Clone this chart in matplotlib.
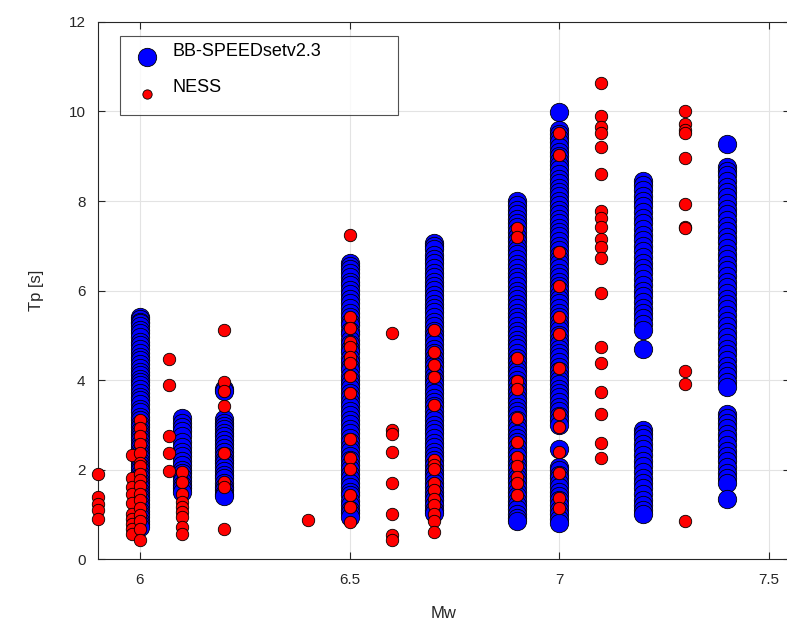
import numpy as np
import matplotlib
matplotlib.use("Agg")
from matplotlib import pyplot as plt
from matplotlib.transforms import Affine2D

plt.rcParams['font.family'] = ['Liberation Sans', 'DejaVu Sans']

# BB-SPEEDsetv2.3 Tp values per magnitude bin
bb_mw = [6.0, 6.1, 6.2, 6.5, 6.7, 6.9, 7.0, 7.2, 7.4]
bb_60 = [5.40, 5.36, 5.30, 5.27, 5.20, 5.12, 5.04, 4.95, 4.85, 4.78, 4.70, 4.60, 4.52, 4.45,
         4.35, 4.26, 4.18, 4.11, 4.02, 3.95, 3.89, 3.80, 3.72, 3.62, 3.55, 3.46, 3.36, 3.28,
         3.18, 3.10, 3.02, 2.95, 2.86, 2.80, 2.73, 2.65, 2.57, 2.50, 2.42, 2.35, 2.28, 2.20,
         2.13, 2.06, 1.98, 1.90, 1.83, 1.75, 1.68, 1.61, 1.53, 1.46, 1.39, 1.31, 1.24, 1.16,
         1.08, 1.01, 0.94, 0.86, 0.79, 0.71]
bb_61 = [3.16, 3.05, 2.95, 2.85, 2.75, 2.62, 2.50, 2.40, 2.30, 2.20, 2.10, 2.00, 1.92, 1.83,
         1.75, 1.65, 1.58, 1.50]
bb_62 = [3.80, 3.76, 3.12, 3.05, 2.98, 2.90, 2.82, 2.74, 2.65, 2.56, 2.48, 2.40, 2.31, 2.22,
         2.14, 2.05, 1.96, 1.88, 1.80, 1.70, 1.62, 1.54, 1.45, 1.40]
bb_65 = [6.61, 6.55, 6.48, 6.40, 6.31, 6.20, 6.12, 6.01, 5.92, 5.80, 5.71, 5.62, 5.50, 5.41,
         5.30, 5.22, 5.10, 5.02, 4.90, 4.81, 4.70, 4.62, 4.50, 4.41, 4.30, 4.22, 4.10, 4.01,
         3.90, 3.82, 3.70, 3.61, 3.50, 3.42, 3.30, 3.21, 3.10, 3.02, 2.90, 2.81, 2.70, 2.62,
         2.50, 2.41, 2.30, 2.22, 2.10, 2.01, 1.90, 1.82, 1.70, 1.61, 1.50, 1.42, 1.30, 1.21,
         1.10, 1.02, 0.94]
bb_67 = [7.06, 7.00, 6.92, 6.80, 6.70, 6.61, 6.50, 6.40, 6.31, 6.20, 6.10, 6.02, 5.90, 5.81,
         5.70, 5.60, 5.51, 5.40, 5.30, 5.21, 5.10, 5.00, 4.91, 4.80, 4.70, 4.61, 4.50, 4.40,
         4.31, 4.20, 4.10, 4.01, 3.90, 3.80, 3.71, 3.60, 3.50, 3.41, 3.30, 3.20, 3.11, 3.00,
         2.90, 2.81, 2.70, 2.60, 2.51, 2.40, 2.30, 2.21, 2.10, 2.00, 1.91, 1.80, 1.70, 1.61,
         1.50, 1.40, 1.31, 1.20, 1.10, 1.02]
bb_69 = [7.99, 7.90, 7.80, 7.71, 7.60, 7.50, 7.41, 7.30, 7.20, 7.11, 7.00, 6.90, 6.81, 6.70,
         6.60, 6.51, 6.40, 6.30, 6.21, 6.10, 6.00, 5.91, 5.80, 5.70, 5.61, 5.50, 5.40, 5.31,
         5.20, 5.10, 5.01, 4.90, 4.80, 4.71, 4.60, 4.50, 4.41, 4.30, 4.20, 4.11, 4.00, 3.90,
         3.81, 3.70, 3.60, 3.51, 3.40, 3.30, 3.21, 3.10, 3.00, 2.91, 2.80, 2.70, 2.61, 2.50,
         2.40, 2.31, 2.20, 2.10, 2.01, 1.90, 1.80, 1.71, 1.60, 1.50, 1.41, 1.30, 1.20, 1.11,
         1.00, 0.92, 0.86]
bb_70 = [9.98, 9.59, 9.50, 9.40, 9.31, 9.20, 9.10, 9.01, 8.90, 8.80, 8.71, 8.60, 8.50, 8.41,
         8.30, 8.20, 8.11, 8.00, 7.90, 7.81, 7.70, 7.60, 7.51, 7.40, 7.30, 7.21, 7.10, 7.00,
         6.91, 6.80, 6.70, 6.61, 6.50, 6.40, 6.31, 6.20, 6.10, 6.01, 5.90, 5.80, 5.71, 5.60,
         5.50, 5.41, 5.30, 5.20, 5.11, 5.00, 4.90, 4.81, 4.70, 4.60, 4.51, 4.40, 4.30, 4.21,
         4.10, 4.00, 3.91, 3.80, 3.70, 3.61, 3.50, 3.40, 3.31, 3.20, 3.10, 2.99, 2.45, 2.06,
         1.98, 1.88, 1.80, 1.70, 1.61, 1.50, 1.40, 1.31, 1.20, 1.10, 1.01, 0.90, 0.80]
bb_72 = [8.44, 8.35, 8.25, 8.12, 8.00, 7.88, 7.75, 7.62, 7.50, 7.38, 7.25, 7.12, 7.00, 6.88,
         6.75, 6.62, 6.50, 6.38, 6.25, 6.12, 6.00, 5.88, 5.75, 5.62, 5.50, 5.38, 5.25, 5.12,
         4.69, 2.88, 2.80, 2.70, 2.58, 2.45, 2.32, 2.20, 2.08, 1.95, 1.82, 1.70, 1.58, 1.45,
         1.32, 1.20, 1.10, 1.01]
bb_74 = [9.27, 8.77, 8.68, 8.58, 8.45, 8.32, 8.20, 8.08, 7.95, 7.82, 7.70, 7.58, 7.45, 7.32,
         7.20, 7.08, 6.95, 6.82, 6.70, 6.58, 6.45, 6.32, 6.20, 6.08, 5.95, 5.82, 5.70, 5.58,
         5.45, 5.32, 5.20, 5.08, 4.95, 4.82, 4.70, 4.58, 4.45, 4.32, 4.20, 4.08, 3.95, 3.85,
         3.25, 3.15, 3.05, 2.92, 2.80, 2.68, 2.55, 2.42, 2.30, 2.18, 2.05, 1.92, 1.80, 1.69,
         1.33]
bb_tp = [bb_60, bb_61, bb_62, bb_65, bb_67, bb_69, bb_70, bb_72, bb_74]

# NESS Tp values per magnitude
ness_mw = [5.9, 5.98, 6.0, 6.07, 6.1, 6.2, 6.4, 6.5, 6.6, 6.7, 6.9, 7.0, 7.1, 7.3]
ness_tp = [
    [1.89, 1.39, 1.22, 1.10, 0.90],
    [2.32, 1.80, 1.60, 1.46, 1.25, 1.01, 0.90, 0.79, 0.68, 0.57],
    [3.10, 2.92, 2.74, 2.58, 2.37, 2.15, 2.07, 1.91, 1.76, 1.63, 1.46, 1.31, 1.13, 0.98,
     0.86, 0.68, 0.42],
    [4.47, 3.88, 2.75, 2.38, 1.96],
    [1.95, 1.72, 1.46, 1.27, 1.16, 1.05, 0.94, 0.71, 0.57],
    [5.12, 3.96, 3.76, 3.42, 2.36, 1.72, 1.60, 0.66],
    [0.88],
    [7.24, 5.40, 5.16, 4.86, 4.74, 4.52, 4.37, 4.09, 3.70, 2.69, 2.26, 2.01, 1.44, 1.16, 0.83],
    [5.04, 2.88, 2.80, 2.39, 1.70, 1.00, 0.53, 0.42],
    [5.12, 4.63, 4.33, 4.07, 3.45, 2.22, 2.10, 2.02, 1.69, 1.54, 1.35, 1.20, 1.01, 0.86, 0.60],
    [7.39, 7.19, 4.50, 3.98, 3.80, 3.15, 2.62, 2.28, 2.07, 1.83, 1.69, 1.42],
    [9.53, 9.02, 6.85, 6.10, 5.40, 5.02, 4.26, 3.23, 2.95, 2.39, 1.92, 1.37, 1.13],
    [10.64, 9.91, 9.66, 9.52, 9.21, 8.61, 7.77, 7.63, 7.43, 7.15, 6.97, 6.72, 5.95, 4.73,
     4.39, 3.74, 3.24, 2.60, 2.25],
    [10.00, 9.71, 9.59, 9.52, 8.95, 7.93, 7.43, 7.39, 4.21, 3.91, 0.86],
]

bx = np.concatenate([[m] * len(t) for m, t in zip(bb_mw, bb_tp)])
by = np.concatenate(bb_tp)
nx = np.concatenate([[m] * len(t) for m, t in zip(ness_mw, ness_tp)])
ny = np.concatenate(ness_tp)

fig = plt.figure(figsize=(7.87, 6.23), dpi=100)
# right edge of the axes sits just past the figure edge, as in the original
ax = fig.add_axes([0.1246, 0.1027, 0.8792, 0.862])

ax.scatter(bx, by, s=175, c='#0000ff', edgecolors='k', linewidths=0.6,
           label='BB-SPEEDsetv2.3', zorder=3, clip_on=False)
ax.scatter(nx, ny, s=80, c='#ff0000', edgecolors='k', linewidths=0.6,
           label='NESS', zorder=4, clip_on=False)

ax.set_xlim(5.9, 7.55)
ax.set_ylim(0, 12)
ax.set_xticks([6, 6.5, 7, 7.5])
ax.set_xticklabels(['6', '6.5', '7', '7.5'])
ax.set_yticks([0, 2, 4, 6, 8, 10, 12])
ax.grid(True, color='#e3e3e3', linewidth=0.8, zorder=0)
ax.set_axisbelow(True)
ax.tick_params(direction='in', length=5, colors='#262626', labelsize=11,
               top=True, right=True)
ax.tick_params(axis='x', pad=10)
ax.tick_params(axis='y', pad=9)
for sp in ax.spines.values():
    sp.set_color('#262626')
    sp.set_linewidth(0.8)

ax.set_xlabel('Mw', fontsize=12, color='#262626', labelpad=14)
ax.set_ylabel('Tp [s]', fontsize=12, color='#262626', labelpad=18)

leg = ax.legend(loc='upper left',
                bbox_to_anchor=(120 / 787, 1 - 36 / 623 - 0.01, 278 / 787, 0.01),
                bbox_transform=fig.transFigure, mode='expand', borderaxespad=0,
                fancybox=False, fontsize=13, labelspacing=1.1, handletextpad=0.6,
                borderpad=0.7, handlelength=1.6, scatterpoints=1)
leg.get_frame().set_edgecolor('#262626')
leg.get_frame().set_linewidth(0.8)
leg.legend_handles[1].set_sizes([45])
# legend text sits a little above its marker
for t in leg.get_texts():
    t.set_transform(t.get_transform() + Affine2D().translate(0, 6))

fig.savefig('out.png', dpi=100)
